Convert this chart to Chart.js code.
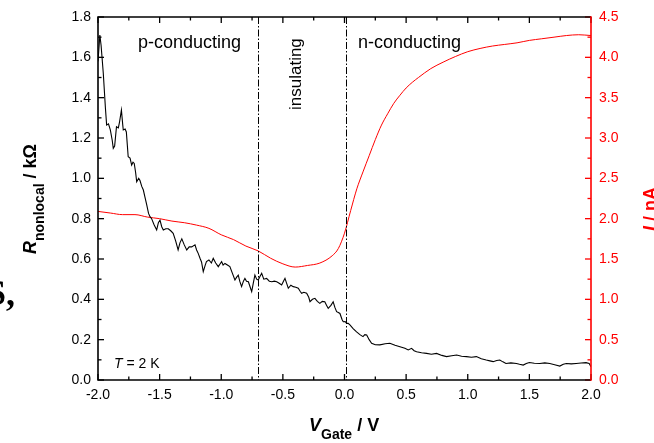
<!DOCTYPE html>
<html>
<head>
<meta charset="utf-8">
<script src="https://cdn.jsdelivr.net/npm/chart.js@4/dist/chart.umd.min.js"></script>
<style>
  html, body { margin: 0; padding: 0; background: #fff; }
  #wrap { width: 654px; height: 443px; position: relative; }
</style>
</head>
<body>
<div id="wrap"><canvas id="chart"></canvas></div>
<script>
// nonlocal resistance (kOhm) vs gate voltage (V)
const gateV = [-2.00,-1.985,-1.975,-1.957,-1.94,-1.93,-1.915,-1.90,-1.885,-1.876,-1.865,-1.85,-1.835,-1.825,-1.81,-1.80,-1.795,-1.78,-1.77,-1.755,-1.74,-1.727,-1.716,-1.706,-1.695,-1.686,-1.67,-1.66,-1.645,-1.632,-1.62,-1.605,-1.59,-1.578,-1.565,-1.545,-1.524,-1.51,-1.497,-1.483,-1.47,-1.45,-1.43,-1.41,-1.39,-1.37,-1.35,-1.335,-1.32,-1.30,-1.28,-1.26,-1.24,-1.213,-1.20,-1.187,-1.17,-1.16,-1.146,-1.13,-1.12,-1.10,-1.08,-1.065,-1.045,-1.024,-1.01,-0.997,-0.985,-0.97,-0.95,-0.93,-0.91,-0.889,-0.875,-0.862,-0.85,-0.835,-0.82,-0.808,-0.795,-0.78,-0.765,-0.753,-0.74,-0.727,-0.713,-0.70,-0.685,-0.672,-0.655,-0.632,-0.61,-0.59,-0.57,-0.55,-0.53,-0.51,-0.495,-0.483,-0.47,-0.456,-0.435,-0.416,-0.395,-0.375,-0.36,-0.348,-0.33,-0.307,-0.29,-0.28,-0.26,-0.24,-0.22,-0.20,-0.18,-0.16,-0.145,-0.132,-0.11,-0.092,-0.078,-0.064,-0.05,-0.037,-0.02,-0.01,0.005,0.017,0.03,0.044,0.07,0.098,0.125,0.15,0.165,0.18,0.20,0.22,0.25,0.287,0.33,0.368,0.41,0.45,0.49,0.517,0.544,0.565,0.585,0.625,0.666,0.705,0.747,0.79,0.828,0.87,0.91,0.95,0.99,1.03,1.07,1.11,1.15,1.18,1.206,1.235,1.26,1.285,1.31,1.35,1.395,1.42,1.45,1.475,1.50,1.54,1.585,1.625,1.666,1.705,1.747,1.775,1.80,1.84,1.88,1.92,1.96,1.985,2.00];
const rNonlocal = [1.58,1.71,1.66,1.52,1.35,1.264,1.27,1.24,1.19,1.149,1.16,1.256,1.25,1.28,1.339,1.27,1.24,1.245,1.23,1.107,1.10,1.066,1.08,1.074,1.03,0.983,1.00,0.99,0.96,0.942,0.909,0.87,0.826,0.81,0.80,0.77,0.744,0.78,0.793,0.76,0.744,0.75,0.75,0.74,0.727,0.69,0.645,0.68,0.70,0.67,0.645,0.66,0.66,0.67,0.645,0.628,0.60,0.585,0.537,0.57,0.587,0.595,0.58,0.603,0.58,0.562,0.575,0.587,0.57,0.578,0.57,0.562,0.53,0.496,0.51,0.52,0.49,0.463,0.49,0.504,0.49,0.487,0.46,0.438,0.48,0.52,0.50,0.496,0.515,0.529,0.50,0.504,0.49,0.487,0.49,0.487,0.48,0.471,0.49,0.504,0.48,0.455,0.47,0.463,0.46,0.455,0.44,0.43,0.435,0.43,0.41,0.388,0.40,0.405,0.39,0.38,0.39,0.388,0.37,0.355,0.37,0.388,0.36,0.339,0.335,0.33,0.30,0.289,0.29,0.281,0.281,0.273,0.255,0.239,0.225,0.215,0.225,0.223,0.20,0.182,0.175,0.174,0.18,0.182,0.172,0.165,0.157,0.149,0.157,0.145,0.14,0.135,0.132,0.128,0.132,0.122,0.116,0.12,0.124,0.118,0.116,0.113,0.116,0.105,0.099,0.095,0.091,0.097,0.099,0.09,0.082,0.085,0.082,0.078,0.074,0.082,0.087,0.083,0.082,0.085,0.082,0.076,0.069,0.078,0.082,0.08,0.082,0.084,0.086,0.082,0.066];

// current (nA) vs gate voltage (V)
const gateVI = [-2.0,-1.9,-1.8,-1.7,-1.6,-1.5,-1.4,-1.3,-1.2,-1.1,-1.0,-0.9,-0.8,-0.7,-0.6,-0.5,-0.4,-0.3,-0.2,-0.1,-0.05,0.0,0.05,0.1,0.15,0.2,0.25,0.3,0.35,0.4,0.45,0.5,0.55,0.6,0.7,0.8,0.9,1.0,1.1,1.2,1.3,1.4,1.5,1.6,1.7,1.8,1.9,2.0];
const current = [2.09,2.07,2.05,2.05,2.02,2.0,1.97,1.95,1.92,1.88,1.80,1.74,1.66,1.60,1.51,1.44,1.40,1.42,1.45,1.54,1.63,1.82,2.10,2.37,2.58,2.78,2.98,3.16,3.30,3.43,3.53,3.62,3.69,3.75,3.86,3.94,4.01,4.07,4.11,4.14,4.16,4.18,4.21,4.23,4.25,4.27,4.28,4.27];

// region boundaries
const boundaries = [-0.7, 0.01];

const FONT = "'Liberation Sans', Arial, sans-serif";
const RED = '#ff0000';

const frame = {
  id: 'frame',
  afterDraw(chart) {
    const { ctx, chartArea: a, scales } = chart;
    const x = scales.x, y = scales.y, y2 = scales.y2;
    ctx.save();

    // dash-dot boundaries
    ctx.strokeStyle = '#000';
    ctx.lineWidth = 1;
    ctx.setLineDash([7, 2, 1.5, 2]);
    boundaries.forEach(v => {
      const px = Math.round(x.getPixelForValue(v)) + 0.5;
      ctx.beginPath(); ctx.moveTo(px, a.top); ctx.lineTo(px, a.bottom); ctx.stroke();
    });
    ctx.setLineDash([]);

    // inward ticks
    ctx.lineWidth = 1.3;
    function ticks(scale, step, minor, side, color) {
      ctx.strokeStyle = color;
      const lo = scale.min, hi = scale.max;
      for (let i = 0; lo + i * minor <= hi + 1e-9; i++) {
        const v = lo + i * minor;
        const isMajor = Math.abs(v / step - Math.round(v / step)) < 1e-6;
        const len = isMajor ? 6 : 3.5;
        const p = scale.getPixelForValue(v);
        ctx.beginPath();
        if (side === 'bottom') { ctx.moveTo(p, a.bottom); ctx.lineTo(p, a.bottom - len); }
        if (side === 'top') { ctx.moveTo(p, a.top); ctx.lineTo(p, a.top + len); }
        if (side === 'left') { ctx.moveTo(a.left, p); ctx.lineTo(a.left + len, p); }
        if (side === 'right') { ctx.moveTo(a.right, p); ctx.lineTo(a.right - len, p); }
        ctx.stroke();
      }
    }
    ticks(x, 0.5, 0.25, 'bottom', '#000');
    ticks(x, 0.5, 0.25, 'top', '#000');
    ticks(y, 0.2, 0.1, 'left', '#000');
    ticks(y2, 0.5, 0.25, 'right', RED);

    // frame
    ctx.lineWidth = 1.6;
    ctx.strokeStyle = '#000';
    ctx.beginPath();
    ctx.moveTo(a.right, a.top); ctx.lineTo(a.left, a.top); ctx.lineTo(a.left, a.bottom); ctx.lineTo(a.right, a.bottom);
    ctx.stroke();
    ctx.strokeStyle = RED;
    ctx.beginPath(); ctx.moveTo(a.right, a.top - 0.8); ctx.lineTo(a.right, a.bottom + 0.8); ctx.stroke();

    // annotations
    ctx.fillStyle = '#000';
    ctx.textBaseline = 'alphabetic';
    ctx.font = '18px ' + FONT;
    ctx.textAlign = 'left';
    ctx.fillText('p-conducting', 138, 48);
    ctx.fillText('n-conducting', 358, 48);
    ctx.save();
    ctx.font = '17px ' + FONT;
    ctx.translate(301, 110); ctx.rotate(-Math.PI / 2);
    ctx.fillText('insulating', 0, 0);
    ctx.restore();

    ctx.font = 'italic 14px ' + FONT;
    ctx.fillText('T', 114, 368);
    let w = ctx.measureText('T').width;
    ctx.font = '14px ' + FONT;
    ctx.fillText(' = 2 K', 114 + w, 368);

    // axis titles with subscripts
    function runs(parts, x0, y0) {
      let cx = x0;
      parts.forEach(([txt, font, dy]) => {
        ctx.font = font;
        ctx.fillText(txt, cx, y0 + dy);
        cx += ctx.measureText(txt).width;
      });
    }
    const big = 'bold 18px ' + FONT, bigI = 'bold italic 18px ' + FONT, sub = 'bold 14px ' + FONT;
    runs([['V', bigI, 0], ['Gate', sub, 8], [' / V', big, 0]], 309, 431);

    ctx.save();
    ctx.translate(36, 254); ctx.rotate(-Math.PI / 2);
    runs([['R', bigI, 0], ['nonlocal', sub, 8], [' / k\u03A9', big, 0]], 0, 0);
    ctx.restore();

    ctx.save();
    ctx.fillStyle = RED;
    ctx.translate(656, 231); ctx.rotate(-Math.PI / 2);
    runs([['I', bigI, 0], [' / nA', big, 0]], 0, 0);
    ctx.restore();

    // clipped panel letter at the far left
    ctx.fillStyle = '#000';
    ctx.font = "bold 36px 'Liberation Serif', serif";
    ctx.textAlign = 'right';
    ctx.fillText('S,', 15, 305);

    ctx.restore();
  }
};

new Chart(document.getElementById('chart'), {
  type: 'line',
  data: {
    datasets: [
      {
        label: 'R',
        data: gateV.map((v, i) => ({ x: v, y: rNonlocal[i] })),
        borderColor: '#000',
        borderWidth: 1.1,
        pointRadius: 0,
        tension: 0,
        yAxisID: 'y'
      },
      {
        label: 'I',
        data: gateVI.map((v, i) => ({ x: v, y: current[i] })),
        borderColor: RED,
        borderWidth: 1,
        pointRadius: 0,
        cubicInterpolationMode: 'monotone',
        yAxisID: 'y2'
      }
    ]
  },
  options: {
    responsive: true,
    maintainAspectRatio: false,
    animation: false,
    events: [],
    layout: { padding: { top: 17, left: 0, right: 0, bottom: 0 } },
    plugins: { legend: { display: false }, tooltip: { enabled: false } },
    scales: {
      x: {
        type: 'linear', min: -2, max: 2,
        grid: { display: false, drawTicks: false },
        border: { display: false },
        ticks: { stepSize: 0.5, padding: 7, color: '#000', font: { family: FONT, size: 14 },
          callback: v => v.toFixed(1), maxRotation: 0 },
        afterFit: s => { s.height = 63; }
      },
      y: {
        position: 'left', min: 0, max: 1.8,
        grid: { display: false, drawTicks: false },
        border: { display: false },
        ticks: { stepSize: 0.2, padding: 7, color: '#000', font: { family: FONT, size: 14 },
          callback: v => v.toFixed(1) },
        afterFit: s => { s.width = 98; }
      },
      y2: {
        position: 'right', min: 0, max: 4.5,
        grid: { display: false, drawTicks: false },
        border: { display: false },
        ticks: { stepSize: 0.5, padding: 8, color: RED, font: { family: FONT, size: 14 },
          callback: v => v.toFixed(1) },
        afterFit: s => { s.width = 63; }
      }
    }
  },
  plugins: [frame]
});
</script>
</body>
</html>
